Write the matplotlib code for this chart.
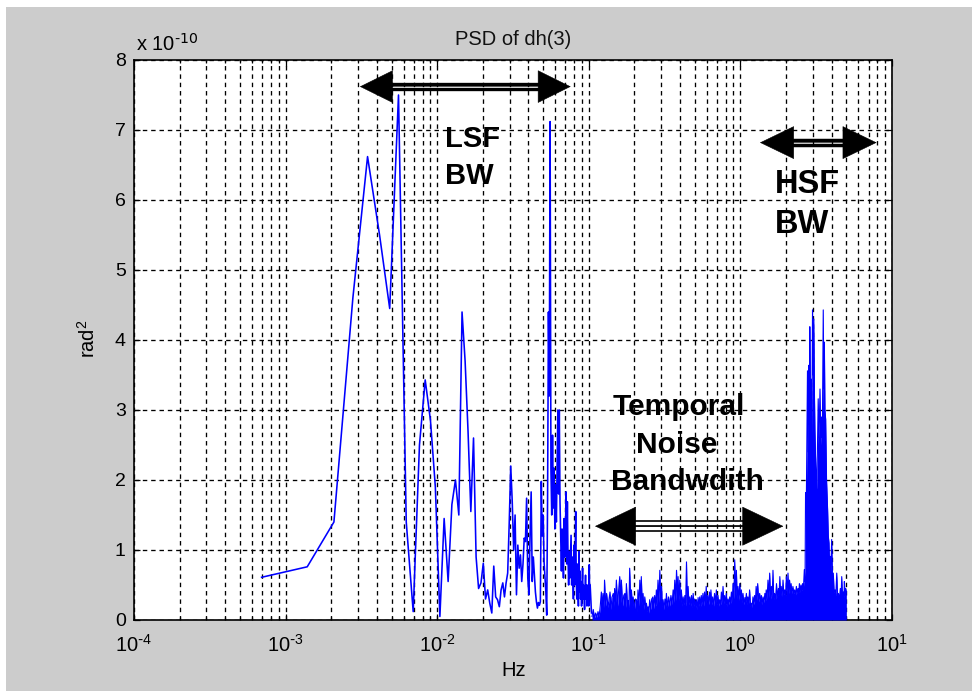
import numpy as np
import matplotlib
matplotlib.use("Agg")
import matplotlib.pyplot as plt
from matplotlib.patches import FancyArrowPatch, Rectangle
from matplotlib import transforms as mtransforms
from matplotlib.ticker import FuncFormatter, LogLocator

plt.rcParams['font.family'] = ['Liberation Sans', 'DejaVu Sans']
plt.rcParams['mathtext.default'] = 'regular'
plt.rcParams['axes.unicode_minus'] = False
plt.rcParams['lines.scale_dashes'] = False

# ---------------- data (PSD in units of 1e-10 rad^2) ----------------
bin_width_hz = 1.0 / 1440.0          # FFT bin spacing
low_bins = np.arange(1, 151)          # first 150 FFT bins (drawn as a line)
low_psd = [
    0.61, 0.76, 1.40, 4.60, 6.62, 5.50, 4.45, 7.50, 1.40, 0.12,
    2.50, 3.43, 2.85, 1.90, 0.05, 1.45, 0.55, 1.65, 2.00, 1.50,
    4.40, 3.70, 2.70, 1.55, 2.60, 0.90, 0.45, 0.53, 0.81, 0.30,
    0.43, 0.24, 0.10, 0.77, 0.33, 0.29, 0.19, 0.43, 0.53, 0.33,
    0.53, 0.67, 1.39, 2.20, 1.70, 1.00, 1.50, 0.36, 1.07, 0.74,
    0.93, 0.55, 0.80, 1.17, 1.12, 1.74, 0.60, 0.36, 1.21, 1.83,
    0.55, 0.90, 0.64, 0.40, 0.26, 0.17, 0.25, 0.21, 0.26, 1.98,
    1.20, 1.50, 0.83, 0.60, 0.40, 0.07, 1.74, 4.40, 3.20, 7.12,
    2.17, 1.50, 2.64, 1.60, 2.17, 1.30, 1.93, 1.40, 2.20, 3.00,
    1.80, 3.00, 1.69, 1.21, 0.70, 1.30, 0.98, 0.60, 1.45, 0.90,
    1.30, 1.83, 0.80, 1.69, 0.90, 0.50, 0.98, 0.60, 0.90, 1.21,
    0.50, 0.90, 0.64, 0.30, 1.07, 0.50, 0.90, 1.55, 0.60, 0.30,
    0.80, 0.50, 0.20, 0.98, 0.40, 0.70, 0.30, 0.55, 0.20, 0.50,
    0.74, 0.30, 0.50, 0.36, 0.15, 0.40, 0.64, 0.30, 0.50, 0.20,
    0.26, 0.50, 0.30, 0.20, 0.79, 0.30, 0.50, 0.36, 0.20, 0.10,
]

# dense high-frequency part (0.1 - 5 Hz), drawn filled
dense_freq = [
    0.105, 0.107, 0.109, 0.111, 0.113, 0.115, 0.117, 0.119, 0.121, 0.123,
    0.124, 0.126, 0.127, 0.129, 0.131, 0.134, 0.136, 0.138, 0.140, 0.142,
    0.145, 0.147, 0.148, 0.150, 0.152, 0.155, 0.157, 0.160, 0.162, 0.164,
    0.167, 0.170, 0.173, 0.175, 0.177, 0.180, 0.182, 0.184, 0.186, 0.189,
    0.191, 0.194, 0.196, 0.200, 0.203, 0.206, 0.209, 0.211, 0.214, 0.217,
    0.220, 0.222, 0.225, 0.228, 0.231, 0.234, 0.237, 0.240, 0.243, 0.246,
    0.249, 0.252, 0.256, 0.260, 0.265, 0.268, 0.272, 0.276, 0.279, 0.282,
    0.286, 0.290, 0.294, 0.298, 0.302, 0.305, 0.309, 0.313, 0.318, 0.322,
    0.325, 0.330, 0.336, 0.342, 0.348, 0.354, 0.360, 0.364, 0.369, 0.374,
    0.379, 0.384, 0.388, 0.393, 0.398, 0.403, 0.408, 0.413, 0.419, 0.425,
    0.430, 0.435, 0.441, 0.446, 0.452, 0.458, 0.464, 0.470, 0.476, 0.482,
    0.488, 0.494, 0.500, 0.506, 0.513, 0.519, 0.526, 0.532, 0.539, 0.545,
    0.552, 0.559, 0.566, 0.573, 0.580, 0.588, 0.595, 0.602, 0.610, 0.618,
    0.626, 0.634, 0.639, 0.647, 0.656, 0.665, 0.675, 0.685, 0.694, 0.703,
    0.712, 0.721, 0.730, 0.740, 0.749, 0.758, 0.768, 0.778, 0.788, 0.798,
    0.808, 0.818, 0.829, 0.840, 0.850, 0.861, 0.872, 0.883, 0.894, 0.905,
    0.917, 0.929, 0.941, 0.952, 0.964, 0.977, 0.990, 1.002, 1.015, 1.028,
    1.040, 1.055, 1.070, 1.080, 1.095, 1.110, 1.120, 1.135, 1.150, 1.165,
    1.180, 1.195, 1.210, 1.225, 1.240, 1.255, 1.270, 1.285, 1.300, 1.320,
    1.340, 1.360, 1.375, 1.390, 1.410, 1.430, 1.450, 1.465, 1.480, 1.500,
    1.520, 1.540, 1.560, 1.580, 1.600, 1.620, 1.640, 1.660, 1.680, 1.705,
    1.730, 1.750, 1.780, 1.800, 1.820, 1.840, 1.860, 1.885, 1.910, 1.935,
    1.960, 1.985, 2.010, 2.035, 2.060, 2.085, 2.110, 2.135, 2.160, 2.190,
    2.220, 2.250, 2.280, 2.310, 2.340, 2.370, 2.400, 2.430, 2.450, 2.480,
    2.510, 2.540, 2.570, 2.600, 2.640, 2.670, 2.690, 2.720, 2.770, 2.800,
    2.830, 2.850, 2.870, 2.900, 2.940, 2.960, 2.990, 3.020, 3.050, 3.080,
    3.100, 3.140, 3.180, 3.220, 3.260, 3.300, 3.350, 3.390, 3.430, 3.470,
    3.520, 3.550, 3.580, 3.610, 3.650, 3.700, 3.760, 3.800, 3.840, 3.870,
    3.900, 3.950, 4.000, 4.050, 4.100, 4.150, 4.210, 4.260, 4.320, 4.370,
    4.430, 4.500, 4.560, 4.610, 4.660, 4.720, 4.780, 4.820, 4.850, 4.900,
    4.950, 5.000,
]
dense_psd = [
    0.05, 0.15, 0.03, 0.10, 0.04, 0.12, 0.05, 0.20, 0.40, 0.15,
    0.38, 0.18, 0.57, 0.20, 0.38, 0.18, 0.30, 0.40, 0.15, 0.32,
    0.38, 0.20, 0.45, 0.25, 0.57, 0.20, 0.40, 0.62, 0.25, 0.57,
    0.20, 0.35, 0.38, 0.18, 0.52, 0.20, 0.28, 0.15, 0.74, 0.25,
    0.43, 0.18, 0.33, 0.15, 0.30, 0.29, 0.12, 0.43, 0.20, 0.57,
    0.25, 0.62, 0.22, 0.38, 0.15, 0.33, 0.18, 0.24, 0.12, 0.19,
    0.10, 0.29, 0.15, 0.30, 0.33, 0.16, 0.35, 0.20, 0.43, 0.22,
    0.57, 0.25, 0.71, 0.28, 0.48, 0.20, 0.29, 0.15, 0.30, 0.20,
    0.38, 0.18, 0.33, 0.20, 0.35, 0.22, 0.43, 0.25, 0.57, 0.28,
    0.71, 0.30, 0.62, 0.28, 0.57, 0.25, 0.43, 0.20, 0.33, 0.22,
    0.35, 0.20, 0.83, 0.25, 0.48, 0.22, 0.33, 0.20, 0.35, 0.18,
    0.38, 0.20, 0.30, 0.18, 0.29, 0.15, 0.32, 0.20, 0.33, 0.18,
    0.35, 0.22, 0.38, 0.20, 0.40, 0.22, 0.48, 0.25, 0.35, 0.22,
    0.40, 0.25, 0.43, 0.22, 0.33, 0.20, 0.38, 0.25, 0.43, 0.22,
    0.35, 0.20, 0.29, 0.22, 0.40, 0.25, 0.48, 0.24, 0.35, 0.22,
    0.38, 0.20, 0.30, 0.22, 0.33, 0.24, 0.40, 0.26, 0.52, 0.30,
    0.86, 0.35, 0.71, 0.30, 0.48, 0.28, 0.52, 0.30, 0.43, 0.25,
    0.38, 0.22, 0.32, 0.25, 0.38, 0.22, 0.33, 0.24, 0.43, 0.20,
    0.24, 0.18, 0.33, 0.22, 0.35, 0.25, 0.48, 0.28, 0.52, 0.26,
    0.38, 0.24, 0.35, 0.22, 0.33, 0.25, 0.38, 0.28, 0.43, 0.30,
    0.57, 0.32, 0.67, 0.30, 0.48, 0.33, 0.71, 0.30, 0.38, 0.30,
    0.52, 0.32, 0.45, 0.35, 0.62, 0.35, 0.48, 0.34, 0.57, 0.36,
    0.43, 0.35, 0.62, 0.38, 0.67, 0.38, 0.57, 0.40, 0.52, 0.38,
    0.48, 0.38, 0.43, 0.36, 0.48, 0.38, 0.45, 0.40, 0.52, 0.40,
    0.50, 0.42, 0.52, 0.42, 0.72, 0.55, 1.82, 1.60, 3.56, 2.40,
    3.64, 2.80, 4.19, 3.00, 3.44, 2.60, 4.43, 3.50, 4.30, 3.20,
    2.73, 2.20, 1.87, 2.40, 3.16, 2.60, 3.30, 2.50, 2.90, 2.60,
    4.43, 3.30, 3.97, 3.00, 2.87, 2.00, 1.58, 1.20, 1.10, 0.80,
    0.91, 0.70, 1.15, 0.55, 0.67, 0.40, 0.43, 0.35, 0.67, 0.35,
    0.38, 0.30, 0.45, 0.30, 0.62, 0.30, 0.40, 0.30, 0.55, 0.35,
    0.45, 0.40,
]

x_limits = (1e-4, 10)
y_limits = (0, 8)
y_ticks = [0, 1, 2, 3, 4, 5, 6, 7, 8]
title_text = "PSD of dh(3)"
x_label = "Hz"
y_label = "rad$^2$"
scale_text = r"x 10$^{\text{-10}}$"

BLUE = '#0000ff'
GRAY = '#cccccc'

# ---------------- figure ----------------
W, H = 972, 691
fig = plt.figure(figsize=(W / 100, H / 100), dpi=100)
fig.patch.set_facecolor('white')
fig.add_artist(Rectangle((6 / W, 0), (W - 6) / W, (H - 7) / H,
                         transform=fig.transFigure, facecolor=GRAY,
                         edgecolor='none', zorder=-10))

ax = fig.add_axes([134 / W, 71 / H, 758 / W, 560 / H])
ax.set_facecolor('white')
ax.set_xscale('log')
ax.set_xlim(*x_limits)
ax.set_ylim(*y_limits)
ax.set_yticks(y_ticks)
ax.xaxis.set_major_locator(LogLocator(base=10, numticks=10))
ax.xaxis.set_minor_locator(LogLocator(base=10, subs=np.arange(2, 10), numticks=20))


def log_label(v, pos):
    e = int(round(np.log10(v)))
    s = str(e).replace('-', r'\text{-}')
    return r'$10^{' + s + '}$'


ax.xaxis.set_major_formatter(FuncFormatter(log_label))

low_freq = low_bins * bin_width_hz
ax.plot(low_freq, low_psd, color=BLUE, lw=1.15, zorder=3)
ax.fill_between(dense_freq, 0, dense_psd, color=BLUE, lw=0, zorder=3)
ax.plot(dense_freq, dense_psd, color=BLUE, lw=0.8, zorder=3)

# grid (MATLAB-like dotted/dashed)
ax.set_axisbelow(True)
ax.grid(True, which='major', axis='both', color='black',
        linestyle=(0, (3.2, 2.8)), lw=0.95)
ax.grid(True, which='minor', axis='x', color='black',
        linestyle=(0, (3.2, 2.8)), lw=0.95)

ax.tick_params(which='both', direction='in', top=True, right=True,
               color='black', width=0.9)
ax.tick_params(which='major', length=4)
ax.tick_params(which='minor', length=2.5)
ax.tick_params(axis='x', which='major', labelsize=14.5, pad=10)
ax.tick_params(axis='y', which='major', labelsize=14, pad=6)
for sp in ax.spines.values():
    sp.set_linewidth(1.2)
    sp.set_color('black')

ax.set_title(title_text, fontsize=14.5, pad=11, color='#111111')
ax.set_xlabel(x_label, fontsize=14.5)
ax.xaxis.set_label_coords(0.501, -0.074)
ax.set_ylabel(y_label, fontsize=14.5)
ax.yaxis.set_label_coords(-0.046, 0.503)
ax.text(0.002, 1.016, scale_text, transform=ax.transAxes,
        fontsize=14.5, ha='left', va='baseline')


# ---------------- annotations ----------------
def double_arrow(f0, f1, y, head_len, head_w, offsets, shaft_lw, shaft_ends):
    arr = FancyArrowPatch((f0, y), (f1, y),
                          arrowstyle=f'<|-|>,head_length={head_len},head_width={head_w}',
                          mutation_scale=1, lw=0.4, color='black',
                          shrinkA=0, shrinkB=0, zorder=6)
    ax.add_patch(arr)
    for off in offsets:
        tr = mtransforms.offset_copy(ax.transData, fig=fig, x=0, y=off, units='points')
        ax.plot(shaft_ends, [y, y], color='black', lw=shaft_lw, transform=tr,
                solid_capstyle='butt', zorder=5)


double_arrow(0.00309, 0.076, 7.62, 23, 11.4, [-2.0, 2.0], 2.4, [0.0045, 0.052])
double_arrow(1.346, 7.92, 6.82, 23.8, 11.5, [-2.0, 2.0], 2.5, [2.0, 5.4])
double_arrow(0.1099, 1.92, 1.34, 28.8, 13.7, [-3.6, 0.0, 3.6], 1.2, [0.15, 1.3])

bold = dict(fontweight='bold', color='black', zorder=7)
ax.text(0.01126, 6.757, "LSF", fontsize=21, ha='left', va='baseline', **bold)
ax.text(0.01126, 6.23, "BW", fontsize=21, ha='left', va='baseline', **bold)
ax.text(1.69, 6.10, "HSF", fontsize=23.5, ha='left', va='baseline', **bold)
ax.text(1.69, 5.53, "BW", fontsize=23.5, ha='left', va='baseline', **bold)
ax.text(0.3895, 2.93, "Temporal", fontsize=21.5, ha='center', va='baseline', **bold)
ax.text(0.380, 2.38, "Noise", fontsize=21.5, ha='center', va='baseline', **bold)
ax.text(0.448, 1.857, "Bandwdith", fontsize=21.5, ha='center', va='baseline', **bold)

fig.savefig('out.png', dpi=100, facecolor=fig.get_facecolor())
